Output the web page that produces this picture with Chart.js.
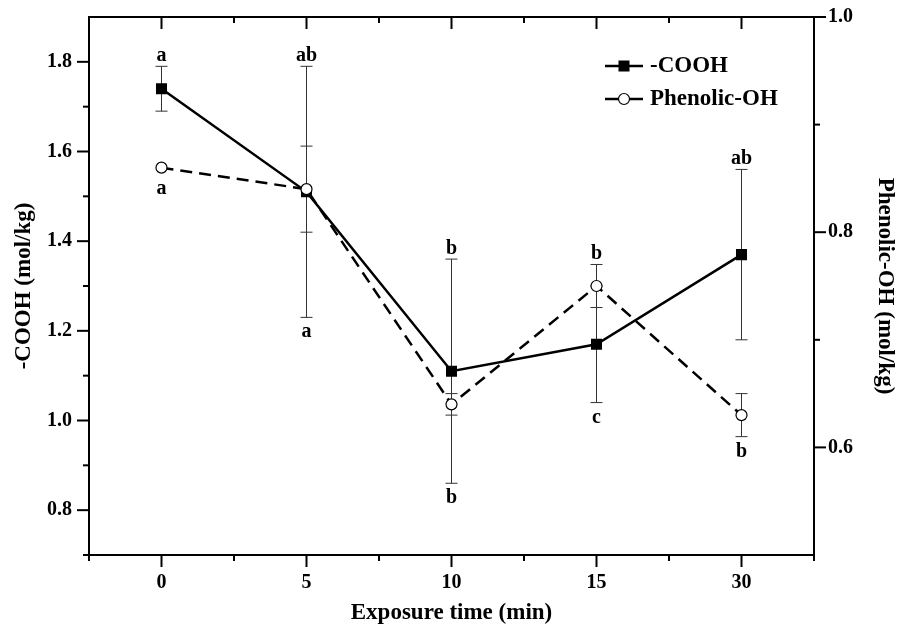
<!DOCTYPE html>
<html>
<head>
<meta charset="utf-8">
<script src="https://cdn.jsdelivr.net/npm/chart.js@4.4.1/dist/chart.umd.min.js"></script>
<style>
  html, body { margin: 0; padding: 0; background: #fff; }
  #wrap { width: 909px; height: 635px; }
</style>
</head>
<body>
<div id="wrap"><canvas id="chart" width="909" height="635"></canvas></div>
<script>
// data
const times = ['0', '5', '10', '15', '30'];
const cooh = [1.74, 1.51, 1.11, 1.17, 1.37];
const coohErr = [0.05, 0.28, 0.25, 0.13, 0.19];
const phenolic = [0.86, 0.84, 0.64, 0.75, 0.63];
const phenolicErr = [0, 0.04, 0.01, 0.02, 0.02];
const leftTicks = [0.8, 1.0, 1.2, 1.4, 1.6, 1.8];
const rightTicks = [0.6, 0.8, 1.0];
// significance letters, and which series' error bar they sit on
const topLetters = ['a', 'ab', 'b', 'b', 'ab'];
const topOf = ['cooh', 'cooh', 'cooh', 'phenolic', 'cooh'];
const bottomLetters = ['a', 'a', 'b', 'c', 'b'];
const bottomOf = ['phenolic', 'cooh', 'cooh', 'cooh', 'phenolic'];

const FONT = "'Liberation Serif', 'Times New Roman', serif";

const series = {
  cooh: { values: cooh, err: coohErr, axis: 'y' },
  phenolic: { values: phenolic, err: phenolicErr, axis: 'y1' }
};

function tick(ctx, x1, y1, x2, y2) {
  ctx.beginPath();
  ctx.moveTo(x1, y1);
  ctx.lineTo(x2, y2);
  ctx.stroke();
}

const extras = {
  id: 'extras',
  beforeDatasetsDraw(chart) {
    const ctx = chart.ctx;
    const x = chart.scales.x;
    ctx.save();
    ctx.strokeStyle = '#333';
    ctx.lineWidth = 1;
    Object.values(series).forEach(s => {
      const sc = chart.scales[s.axis];
      s.values.forEach((v, i) => {
        if (!s.err[i]) return;
        const px = x.getPixelForValue(i);
        const top = sc.getPixelForValue(v + s.err[i]);
        const bot = sc.getPixelForValue(v - s.err[i]);
        tick(ctx, px, top, px, bot);
        tick(ctx, px - 6, top, px + 6, top);
        tick(ctx, px - 6, bot, px + 6, bot);
      });
    });
    ctx.restore();
  },
  afterDraw(chart) {
    const ctx = chart.ctx;
    const a = chart.chartArea;
    const x = chart.scales.x;
    const y = chart.scales.y;
    const y1 = chart.scales.y1;
    ctx.save();
    ctx.strokeStyle = '#000';
    ctx.lineWidth = 2;
    // top frame
    tick(ctx, a.left - 1, a.top, a.right + 1, a.top);

    // x ticks: bottom outward, top inward
    const xs = times.map((t, i) => x.getPixelForValue(i));
    const xMinor = [a.left];
    for (let i = 0; i < xs.length - 1; i++) xMinor.push((xs[i] + xs[i + 1]) / 2);
    xMinor.push(a.right);
    xs.forEach(px => {
      tick(ctx, px, a.bottom, px, a.bottom + 12);
      tick(ctx, px, a.top, px, a.top + 12);
    });
    xMinor.forEach(px => {
      tick(ctx, px, a.bottom, px, a.bottom + 6);
      tick(ctx, px, a.top, px, a.top + 6);
    });

    // y ticks
    const yTicks = (scale, vals, side) => {
      const dir = side === 'left' ? -1 : 1;
      const x0 = side === 'left' ? a.left : a.right;
      vals.forEach(v => {
        const py = scale.getPixelForValue(v);
        tick(ctx, x0, py, x0 + dir * 12, py);
      });
      const step = vals[1] - vals[0];
      const minors = [vals[0] - step / 2];
      for (let i = 0; i < vals.length; i++) minors.push(vals[i] + step / 2);
      minors.forEach(v => {
        if (v <= scale.min || v >= scale.max) return;
        const py = scale.getPixelForValue(v);
        tick(ctx, x0, py, x0 + dir * 6, py);
      });
    };
    yTicks(y, leftTicks, 'left');
    yTicks(y1, rightTicks, 'right');

    // letters
    ctx.fillStyle = '#000';
    ctx.font = 'bold 20px ' + FONT;
    ctx.textAlign = 'center';
    ctx.textBaseline = 'alphabetic';
    topLetters.forEach((t, i) => {
      const s = series[topOf[i]];
      const py = chart.scales[s.axis].getPixelForValue(s.values[i] + s.err[i]);
      ctx.fillText(t, xs[i], py - 5);
    });
    bottomLetters.forEach((t, i) => {
      const s = series[bottomOf[i]];
      let py = chart.scales[s.axis].getPixelForValue(s.values[i] - s.err[i]);
      if (!s.err[i]) py += 6;
      ctx.fillText(t, xs[i], py + 20);
    });

    // legend
    const lx = 605, lw = 38;
    const rows = [
      { label: '-COOH', y: 66, square: true },
      { label: 'Phenolic-OH', y: 99, square: false }
    ];
    ctx.font = 'bold 23px ' + FONT;
    ctx.textAlign = 'left';
    ctx.textBaseline = 'middle';
    rows.forEach(r => {
      const cx = lx + lw / 2;
      ctx.lineWidth = 2.5;
      ctx.strokeStyle = '#000';
      tick(ctx, lx, r.y, cx - 5, r.y);
      tick(ctx, cx + 5, r.y, lx + lw, r.y);
      if (r.square) {
        ctx.fillRect(cx - 5.5, r.y - 5.5, 11, 11);
      } else {
        ctx.beginPath();
        ctx.arc(cx, r.y, 5.5, 0, Math.PI * 2);
        ctx.fillStyle = '#fff';
        ctx.fill();
        ctx.lineWidth = 1.2;
        ctx.stroke();
        ctx.fillStyle = '#000';
      }
      ctx.fillText(r.label, lx + lw + 7, r.y);
    });
    ctx.restore();
  }
};

const tickFont = { family: FONT, size: 20, weight: 'bold' };
const titleFont = { family: FONT, size: 23, weight: 'bold' };

// fixed box sizes so the plot area lands where the figure has it
function fixV(width) {
  return s => { s.width = width; s.paddingTop = 0; s.paddingBottom = 0; };
}

new Chart(document.getElementById('chart'), {
  type: 'line',
  data: {
    labels: times,
    datasets: [{
      label: '-COOH',
      data: cooh,
      yAxisID: 'y',
      borderColor: '#000',
      borderWidth: 2.5,
      pointStyle: 'rect',
      pointRadius: 7.8,
      pointBackgroundColor: '#000',
      pointBorderWidth: 0,
      tension: 0,
      order: 1
    }, {
      label: 'Phenolic-OH',
      data: phenolic,
      yAxisID: 'y1',
      borderColor: '#000',
      borderWidth: 2.5,
      borderDash: [12, 7],
      pointStyle: 'circle',
      pointRadius: 5.5,
      pointBackgroundColor: '#fff',
      pointBorderColor: '#000',
      pointBorderWidth: 1.2,
      tension: 0,
      order: 0
    }]
  },
  options: {
    responsive: false,
    animation: false,
    events: [],
    layout: { padding: { top: 17, left: 0, right: 0, bottom: 0 } },
    plugins: {
      legend: { display: false },
      tooltip: { enabled: false }
    },
    scales: {
      x: {
        type: 'category',
        offset: true,
        grid: { drawOnChartArea: false, drawTicks: false },
        border: { display: true, width: 2, color: '#000' },
        ticks: { color: '#000', font: tickFont, padding: 16, maxRotation: 0 },
        title: { display: true, text: 'Exposure time (min)', color: '#000', font: titleFont, padding: { top: 0, bottom: 8 } },
        afterFit: s => { s.height = 80; s.paddingLeft = 0; s.paddingRight = 0; }
      },
      y: {
        position: 'left',
        min: 0.7,
        max: 1.9,
        afterBuildTicks: s => { s.ticks = leftTicks.map(v => ({ value: v })); },
        grid: { drawOnChartArea: false, drawTicks: false },
        border: { display: true, width: 2, color: '#000' },
        ticks: { color: '#000', font: tickFont, padding: 17, callback: v => v.toFixed(1) },
        title: { display: true, text: '-COOH (mol/kg)', color: '#000', font: titleFont, padding: { top: 10, bottom: 0 } },
        afterFit: fixV(89)
      },
      y1: {
        position: 'right',
        min: 0.5,
        max: 1.0,
        afterBuildTicks: s => { s.ticks = rightTicks.map(v => ({ value: v })); },
        grid: { drawOnChartArea: false, drawTicks: false },
        border: { display: true, width: 2, color: '#000' },
        ticks: { color: '#000', font: tickFont, padding: 14, callback: v => v.toFixed(1) },
        title: { display: true, text: 'Phenolic-OH (mol/kg)', color: '#000', font: titleFont, padding: { top: 10, bottom: 0 } },
        afterFit: fixV(95)
      }
    }
  },
  plugins: [extras]
});
</script>
</body>
</html>
